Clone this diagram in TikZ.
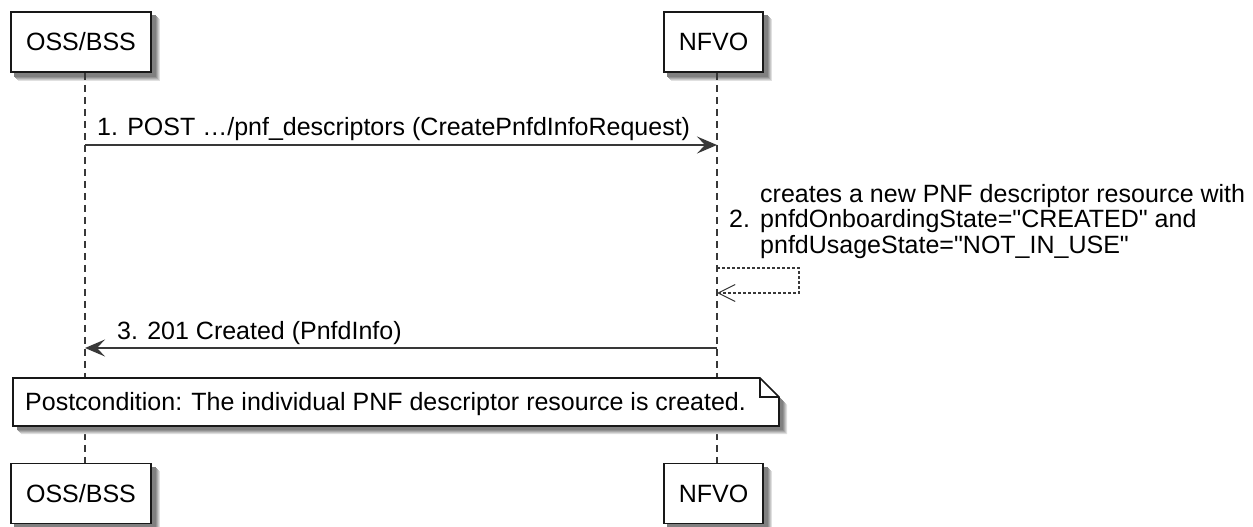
\documentclass[tikz,border=0pt]{standalone}
\usepackage{fontspec}
\setmainfont{Liberation Sans}
\usetikzlibrary{arrows.meta,backgrounds}
\definecolor{umlline}{HTML}{383838}
\definecolor{umlbord}{HTML}{181818}

\begin{document}
\begin{tikzpicture}[x=1pt, y=-1pt, font=\fontsize{25}{25.5}\selectfont, line join=miter,
 actor/.style={draw=umlbord, line width=1.8pt, fill=white, inner xsep=15pt, minimum height=60pt},
 lifeline/.style={draw=umlline, line width=1.2pt, dash pattern=on 7pt off 5pt},
 msg/.style={draw=umlline, line width=1.5pt, -{Stealth[length=20pt, width=17pt, inset=8pt]}},
 selfmsg/.style={draw=umlline, line width=1.1pt, dash pattern=on 3pt off 2pt, -{Straight Barb[length=17pt, width=17pt]}},
 txt/.style={anchor=base west, inner sep=0pt},
 notebox/.style={draw=umlbord, line width=1.6pt, fill=white}]
 \useasboundingbox (0,0) rectangle (1253,527);
 \coordinate (ossL) at (85,0);
 \coordinate (nfvoL) at (717,0);
 \coordinate (m1) at (0,145);
 \coordinate (m2a) at (0,268);
 \coordinate (m2b) at (0,293);
 \coordinate (m3) at (0,348);
 \path (81,42) node[actor] (osstop) {OSS/BSS}
 (713.5,42) node[actor] (nfvotop) {NFVO}
 (81,493.5) node[actor] (ossbot) {OSS/BSS}
 (713.5,493.5) node[actor] (nfvobot) {NFVO};
 \draw[lifeline] (ossL |- osstop.south) -- (ossL |- ossbot.north);
 \draw[lifeline] (nfvoL |- nfvotop.south) -- (nfvoL |- nfvobot.north);
 \draw[msg] (ossL |- m1) -- (nfvoL |- m1);
 \node[txt] (m1txt) at (97,135) {1. POST …/pnf\_descriptors (CreatePnfdInfoRequest)};
 \draw[selfmsg] (nfvoL |- m2a) -- ++(82,0) |- (nfvoL |- m2b);
 \node[txt] (m2num) at (729,227) {2.};
 \foreach \l [count=\i] in {creates a new PNF descriptor resource with, pnfdOnboardingState=\textquotedbl CREATED\textquotedbl{} and, pnfdUsageState=\textquotedbl NOT\_IN\_USE\textquotedbl}
 \node[txt] (m2txt\i) at (760,{176.5+25.5*\i}) {\l};
 \draw[msg] (nfvoL |- m3) -- (ossL |- m3);
 \node[txt] (m3txt) at (117,339) {3. 201 Created (PnfdInfo)};
 \foreach \s/\c in {8/12,7/22,6/32,5/42,4/50}
 \fill[black!\c, shift={(\s,\s)}] (13,378) -- (760,378) -- (779,397) -- (779,426) -- (13,426) -- cycle;
 \draw[notebox] (13,378) -- (760,378) -- (779,397) -- (779,426) -- (13,426) -- cycle;
 \draw[umlbord, line width=1.2pt] (760,378) |- (779,397);
 \node[txt] (post) at (25,410) {Postcondition: The individual PNF descriptor resource is created.};
 \begin{pgfonlayer}{background}
 \foreach \n in {osstop,nfvotop,ossbot,nfvobot}
 \foreach \s/\c in {8/12,7/22,6/32,5/42,4/50}
 \fill[black!\c] ([shift={(\s,\s)}]\n.north west) rectangle ([shift={(\s,\s)}]\n.south east);
 \end{pgfonlayer}
\end{tikzpicture}
\end{document}
